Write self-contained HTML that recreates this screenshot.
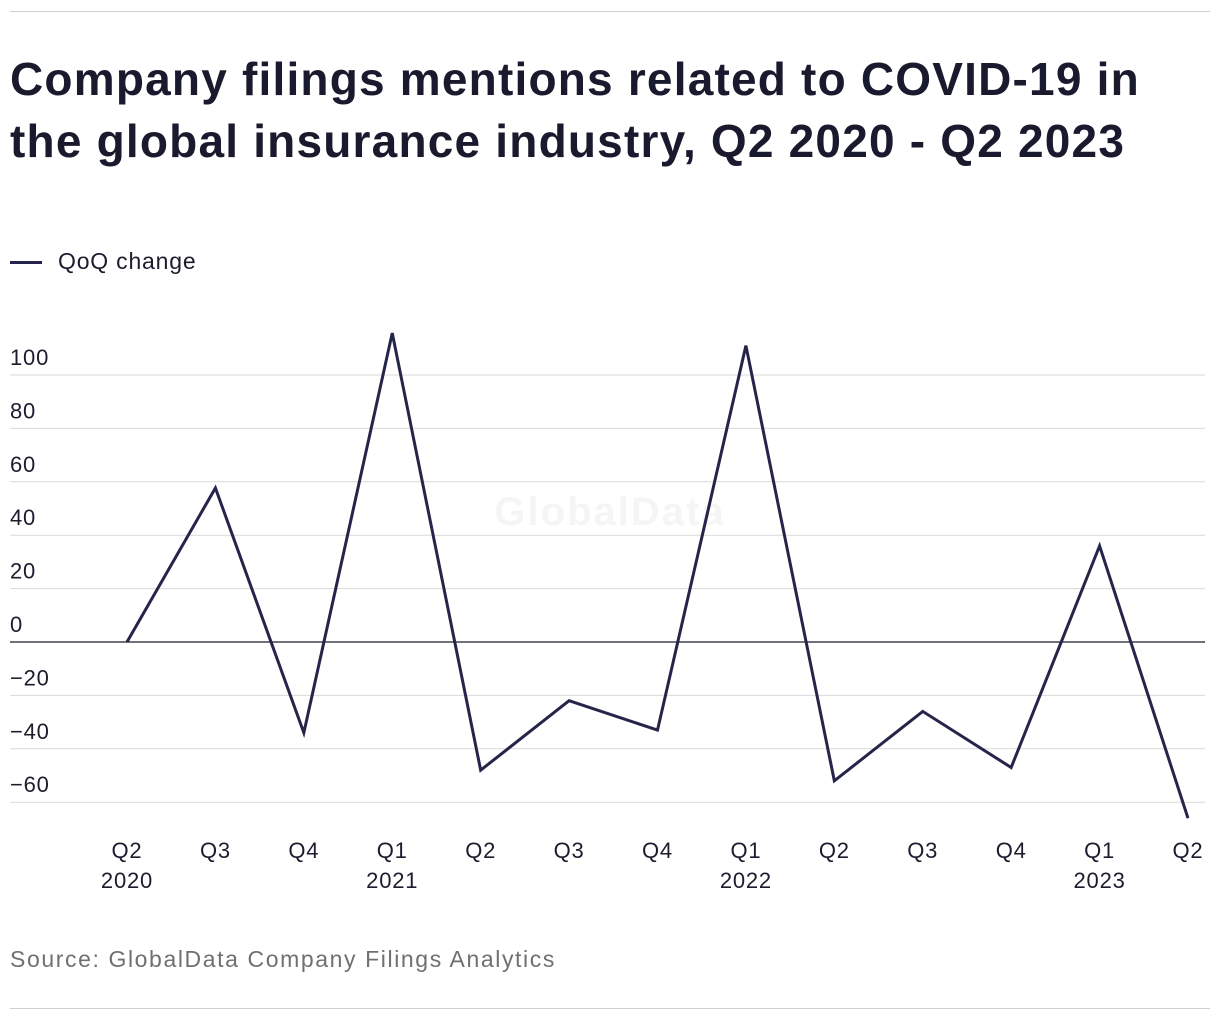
<!DOCTYPE html>
<html><head><meta charset="utf-8"><style>
body{margin:0;background:#fff;width:1220px;height:1020px;overflow:hidden;font-family:"Liberation Sans",sans-serif;color:#1c1c2e}
.rule{position:absolute;left:10px;width:1200px;height:1px;background:#d0d0d0}
h1{position:absolute;left:10px;top:48px;margin:0;font-size:46px;line-height:62px;font-weight:bold;color:#1a1a2e;letter-spacing:1.2px;white-space:nowrap}
.legend{position:absolute;left:10px;top:248px;font-size:23px;color:#1c1c2e;letter-spacing:0.8px}
.legend span{display:inline-block;width:32px;height:3px;background:#25254a;vertical-align:middle;margin-right:16px}
.src{position:absolute;left:10px;top:946px;font-size:23px;color:#707070;letter-spacing:1.6px}
</style></head><body>
<div class="rule" style="top:11px"></div>
<h1>Company filings mentions related to COVID-19 in<br>the global insurance industry, Q2 2020 - Q2 2023</h1>
<div class="legend"><span></span>QoQ change</div>
<svg id="chart" width="1220" height="1020" style="position:absolute;left:0;top:0"></svg>
<div class="src">Source: GlobalData Company Filings Analytics</div>
<div class="rule" style="top:1008px"></div>
<script>
const categories=["Q2\n2020","Q3","Q4","Q1\n2021","Q2","Q3","Q4","Q1\n2022","Q2","Q3","Q4","Q1\n2023","Q2"];
const values=[0,57.7,-34,115.7,-48,-22,-33,111,-52,-26,-47,36,-66];
const yTicks=[100,80,60,40,20,0,-20,-40,-60];
const yTickLabels=["100","80","60","40","20","0","\u221220","\u221240","\u221260"];
const svg=document.getElementById('chart');
const NS='http://www.w3.org/2000/svg';
const y=v=>642-v*2.67;
const x=i=>127+i*(1188-127)/(categories.length-1);
function mk(t,a){const e=document.createElementNS(NS,t);for(const k in a)e.setAttribute(k,a[k]);svg.appendChild(e);return e;}
const wm=mk('text',{x:610,y:525,'text-anchor':'middle','font-size':40,'font-weight':'bold',fill:'#f5f5f5','font-family':'Liberation Sans','letter-spacing':2});
wm.textContent='GlobalData';


yTicks.forEach((v,i)=>{
 const l=mk('line',{x1:10,x2:1205,y1:y(v),y2:y(v),stroke:v===0?'#1c1c2e':'#d9d9d9','stroke-width':v===0?1.3:1});
 
 
 const t=mk('text',{x:10,y:y(v)-10,'font-size':22,fill:'#1c1c2e','font-family':'Liberation Sans','letter-spacing':0.8});
 t.textContent=yTickLabels[i];
 
 
});
categories.forEach((c,i)=>{
 const parts=c.split('\n');
 parts.forEach((p,j)=>{
  const t=mk('text',{x:x(i),y:858+j*30,'text-anchor':'middle','font-size':22,fill:'#1c1c2e','font-family':'Liberation Sans','letter-spacing':0.8});
  t.textContent=p;
  
  
 });
});
const p=mk('polyline',{points:values.map((v,i)=>x(i)+','+y(v)).join(' '),fill:'none',stroke:'#25254a','stroke-width':3,'stroke-linejoin':'miter'});


</script>
</body></html>
